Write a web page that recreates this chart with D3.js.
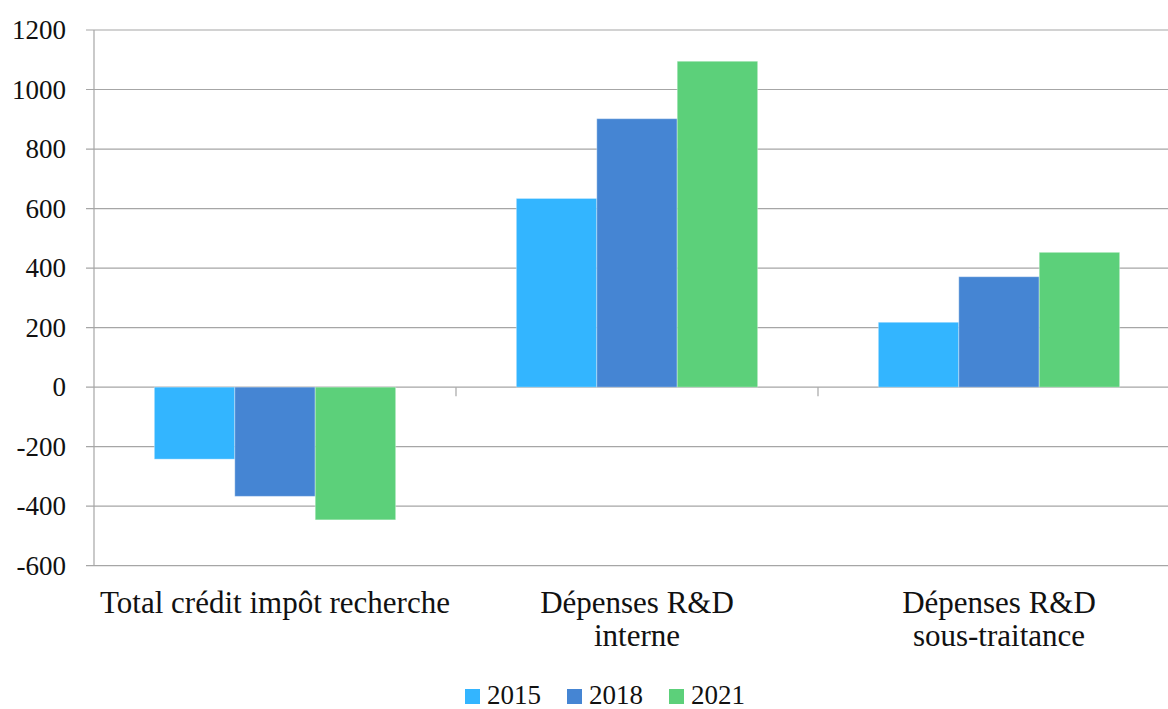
<!DOCTYPE html>
<meta charset="utf-8" />
<script src="https://cdn.jsdelivr.net/npm/d3@7"></script>
<html>
    <head>
        <title>Crédit impôt recherche</title>
        <style>
            body { margin: 0; background: #fff; }
            text { font-family: "Liberation Serif", serif; fill: #111; }
        </style>
    </head>
    <body>
        <script>
            // data
            const categories = [
                ["Total crédit impôt recherche"],
                ["Dépenses R&D", "interne"],
                ["Dépenses R&D", "sous-traitance"],
            ];
            const years = ["2015", "2018", "2021"];
            const values2015 = [-242, 634, 218];
            const values2018 = [-367, 902, 371];
            const values2021 = [-446, 1095, 453];
            const colors = ["#33b5ff", "#4585d3", "#5cd07a"];
            const yTicks = [-600, -400, -200, 0, 200, 400, 600, 800, 1000, 1200];

            const series = [values2015, values2018, values2021];

            var width = 1168,
                height = 709;
            // plot box (note: "top" is reserved on window, so use other names)
            var plotLeft = 94,
                plotRight = 1180,
                plotTop = 30,
                plotBottom = 565.7;

            var svg = d3
                .select("body")
                .append("svg")
                .attr("width", width)
                .attr("height", height);

            var x0 = d3
                .scaleBand()
                .domain(d3.range(categories.length))
                .range([plotLeft, plotRight])
                .paddingInner(0)
                .paddingOuter(0);

            var x1 = d3
                .scaleBand()
                .domain(years)
                .range([0, x0.bandwidth()])
                .paddingOuter(0.75)
                .paddingInner(0);

            var y = d3.scaleLinear().domain([-600, 1200]).range([plotBottom, plotTop]);

            // gridlines + y labels
            var grid = svg.append("g");
            grid.selectAll("line")
                .data(yTicks)
                .enter()
                .append("line")
                .attr("x1", plotLeft - 8)
                .attr("x2", plotRight)
                .attr("y1", (d) => y(d))
                .attr("y2", (d) => y(d))
                .attr("stroke", "#a6a6a6")
                .attr("stroke-width", 1.2);

            grid.selectAll("text")
                .data(yTicks)
                .enter()
                .append("text")
                .attr("x", 66)
                .attr("y", (d) => y(d) + 9)
                .attr("text-anchor", "end")
                .style("font-size", "27px")
                .text((d) => d);

            // y axis line
            svg.append("line")
                .attr("x1", plotLeft)
                .attr("x2", plotLeft)
                .attr("y1", y(1200))
                .attr("y2", y(-600))
                .attr("stroke", "#a6a6a6")
                .attr("stroke-width", 1.2);

            // bars
            var groups = svg
                .append("g")
                .selectAll("g")
                .data(categories)
                .enter()
                .append("g")
                .attr("transform", (d, i) => "translate(" + x0(i) + ",0)");

            groups.selectAll("rect")
                .data((d, i) => years.map((yr, j) => ({ yr: yr, v: series[j][i], c: colors[j] })))
                .enter()
                .append("rect")
                .attr("x", (d) => x1(d.yr))
                .attr("width", x1.bandwidth())
                .attr("y", (d) => y(Math.max(0, d.v)))
                .attr("height", (d) => Math.abs(y(d.v) - y(0)))
                .attr("fill", (d) => d.c)
                .attr("stroke", "rgba(255,255,255,0.35)")
                .attr("stroke-width", 1);

            // category tick marks on the zero line
            svg.append("g")
                .selectAll("line")
                .data(d3.range(1, categories.length))
                .enter()
                .append("line")
                .attr("x1", (d) => x0(d))
                .attr("x2", (d) => x0(d))
                .attr("y1", y(0))
                .attr("y2", y(0) + 9)
                .attr("stroke", "#a6a6a6")
                .attr("stroke-width", 1.2);

            // category labels
            var labels = svg
                .append("g")
                .selectAll("text")
                .data(categories)
                .enter()
                .append("text")
                .attr("text-anchor", "middle")
                .style("font-size", "31px")
                .attr("transform", (d, i) => "translate(" + (x0(i) + x0.bandwidth() / 2) + ",613)");

            labels.selectAll("tspan")
                .data((d) => d)
                .enter()
                .append("tspan")
                .attr("x", 0)
                .attr("dy", (d, i) => (i === 0 ? 0 : 33))
                .text((d) => d);

            // legend
            var legendX = [465, 567, 669];
            var legend = svg
                .append("g")
                .selectAll("g")
                .data(years)
                .enter()
                .append("g")
                .attr("transform", (d, i) => "translate(" + legendX[i] + ",689)");

            legend.append("rect")
                .attr("width", 15)
                .attr("height", 15)
                .attr("fill", (d, i) => colors[i]);

            legend.append("text")
                .attr("x", 22)
                .attr("y", 15)
                .style("font-size", "27px")
                .text((d) => d);
        </script>
    </body>
</html>
